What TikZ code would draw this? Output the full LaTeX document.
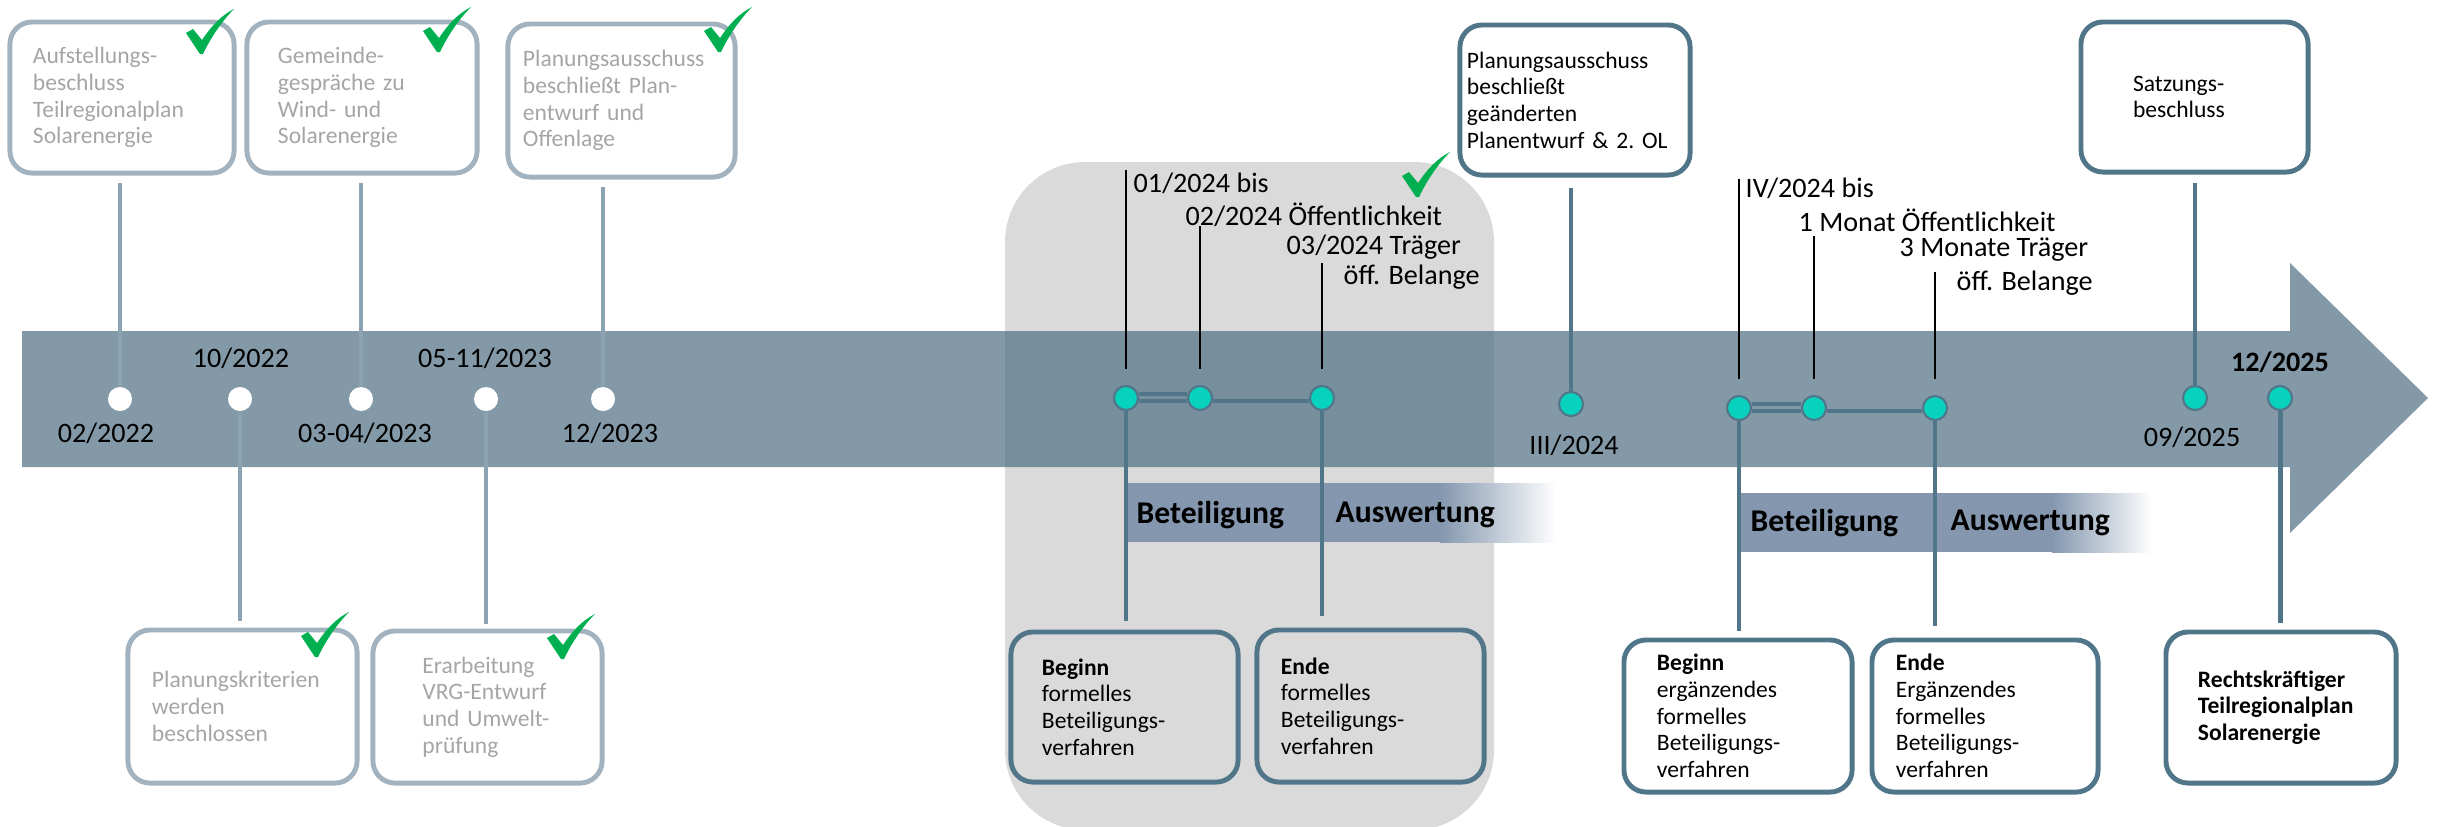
\documentclass[tikz,border=0pt]{standalone}
\usepackage{fontspec}
\setmainfont{Carlito}
\usepackage{xcolor}
\definecolor{bandblue}{RGB}{78,110,130}
\definecolor{darkline}{RGB}{82,118,137}
\definecolor{paleline}{RGB}{139,163,179}
\definecolor{paleframe}{RGB}{162,178,190}
\definecolor{paletext}{RGB}{165,165,165}
\definecolor{zonegrey}{RGB}{218,218,218}
\definecolor{barblue}{RGB}{132,151,175}
\definecolor{dotteal}{RGB}{6,210,189}
\definecolor{okgreen}{RGB}{0,176,80}

\begin{document}
\begin{tikzpicture}[x=0.01cm, y=-0.01cm,
    gbox/.style={draw=paleframe, line width=1.4pt, rounded corners=0.22cm, text=paletext, align=left, inner sep=0pt, font=\fontsize{6.7}{7.6}\selectfont},
    dbox/.style={draw=darkline, line width=1.4pt, rounded corners=0.22cm, align=left, inner sep=0pt, font=\fontsize{6.7}{7.6}\selectfont},
    wdot/.style={circle, fill=white, inner sep=0pt, minimum size=0.24cm},
    tdot/.style={circle, fill=dotteal, draw=darkline, line width=0.6pt, inner sep=0pt, minimum size=0.24cm},
    gline/.style={paleline, line width=1.4pt},
    dline/.style={darkline, line width=1.4pt},
    tick/.style={black, line width=0.45pt},
    date/.style={font=\fontsize{8}{9.6}\selectfont, inner sep=0pt},
    note/.style={font=\fontsize{8}{9.6}\selectfont, anchor=west, inner sep=0pt},
    phase/.style={font=\fontsize{9}{10.8}\selectfont\bfseries, anchor=west, inner sep=0pt},
    chk/.pic={\fill[okgreen] (0,24) -- (7,20) -- (16,31) .. controls (26,16) and (36,6) .. (48,0) .. controls (38,10) and (26,26) .. (17,45) -- (14,45) -- cycle;}]
    \useasboundingbox (0,0) rectangle (2440,826);

    % grey zone and timeline arrow
    \fill[zonegrey, rounded corners=0.8cm] (1005,162) rectangle (1494,830);
    \fill[bandblue, fill opacity=0.7] (22,331) -- (2290,331) -- (2290,263) -- (2428,398) -- (2290,533) -- (2290,467) -- (22,467) -- cycle;

    % participation bars
    \fill[barblue] (1127,483) rectangle (1440,542);
    \shade[left color=barblue, right color=white] (1440,483) rectangle (1556,542);
    \fill[barblue] (1737,493) rectangle (2052,552);
    \shade[left color=barblue, right color=white] (2052,493) rectangle (2152,552);

    % done steps
    \node[wdot] (d1) at (120,399) {};
    \node[wdot] (d2) at (240,399) {};
    \node[wdot] (d3) at (361,399) {};
    \node[wdot] (d4) at (486,399) {};
    \node[wdot] (d5) at (603,399) {};

    \node[gbox, minimum width=2.24cm, minimum height=1.51cm, text width=1.78cm] (aufst) at (122,97.5) {Aufstellungs-\\beschluss\\Teilregionalplan\\Solarenergie};
    \node[gbox, minimum width=2.30cm, minimum height=1.51cm, text width=1.68cm] (gemeinde) at (362,97.5) {Gemeinde-\\gespräche zu\\Wind- und\\Solarenergie};
    \node[gbox, minimum width=2.27cm, minimum height=1.53cm, text width=1.97cm] (planoff) at (621.5,100.5) {Planungsausschuss\\beschließt Plan-\\entwurf und\\Offenlage};
    \node[gbox, minimum width=2.29cm, minimum height=1.53cm, text width=1.81cm] (kriterien) at (242.5,706.5) {Planungskriterien\\werden\\beschlossen};
    \node[gbox, minimum width=2.29cm, minimum height=1.52cm, text width=1.3cm] (vrg) at (487.5,707) {Erarbeitung\\VRG-Entwurf\\und Umwelt-\\prüfung};

    \draw[gline, shorten <=0.07cm] (aufst.south -| d1) -- (d1.north);
    \draw[gline, shorten <=0.07cm] (gemeinde.south -| d3) -- (d3.north);
    \draw[gline, shorten <=0.07cm] (planoff.south -| d5) -- (d5.north);
    \draw[gline, shorten >=0.07cm] (d2.south) -- (kriterien.north -| d2);
    \draw[gline, shorten >=0.05cm] (d4.south) -- (vrg.north -| d4);

    \node[date] (t0222) at (106,433) {02/2022};
    \node[date] (t1022) at (241,358) {10/2022};
    \node[date] (t0323) at (365,433) {03-04/2023};
    \node[date] (t0523) at (485,358) {05-11/2023};
    \node[date] (t1223) at (610,433) {12/2023};

    % formal participation
    \node[tdot] (e1) at (1126,398) {};
    \node[tdot] (e2) at (1200,398) {};
    \node[tdot] (e3) at (1322,398) {};
    \draw[dline, line width=1.1pt] ([yshift=0.04cm]e1.east) -- ([yshift=0.04cm]e2.west);
    \draw[dline] ([yshift=-0.03cm]e1.east) -- ([yshift=-0.03cm]e2.west);
    \draw[dline] ([yshift=-0.03cm]e2.east) -- ([yshift=-0.03cm]e3.west);

    \coordinate (e1top) at (1126,170);
    \coordinate (e2top) at (1200,226);
    \coordinate (e3top) at (1322,263);
    \draw[tick, shorten <=0.16cm] (e1.north) -- (e1top);
    \draw[tick, shorten <=0.16cm] (e2.north) -- (e2top);
    \draw[tick, shorten <=0.16cm] (e3.north) -- (e3top);
    \node[note] (n1) at (1133,183) {01/2024 bis};
    \node[note] (n2) at (1185,215) {02/2024 Öffentlichkeit};
    \node[note] (n3) at (1286,247) {03/2024 Träger};
    \node[note] (n4) at (1343,277) {öff. Belange};

    \node[phase] (beteil1) at (1136,515) {Beteiligung};
    \node[phase] (ausw1) at (1335,515) {Auswertung};

    \node[dbox, minimum width=2.27cm, minimum height=1.50cm, text width=1.65cm] (beg1) at (1124.5,707) {\textbf{Beginn}\\formelles\\Beteiligungs-\\verfahren};
    \node[dbox, minimum width=2.27cm, minimum height=1.52cm, text width=1.79cm] (end1) at (1370.5,706) {\textbf{Ende}\\formelles\\Beteiligungs-\\verfahren};
    \draw[dline, shorten >=0.09cm] (e1.south) -- (beg1.north -| e1);
    \draw[dline, shorten >=0.12cm] (e3.south) -- (end1.north -| e3);

    % changed draft
    \node[dbox, minimum width=2.30cm, minimum height=1.50cm, text width=2.16cm] (plan2) at (1575,100) {Planungsausschuss\\beschließt\\geänderten\\Planentwurf \& 2.~OL};
    \node[tdot] (g1) at (1571,404) {};
    \draw[dline, shorten <=0.1cm] (plan2.south -| g1) -- (g1.north);
    \node[date] (t0324) at (1574,445) {III/2024};

    % supplementary participation
    \node[tdot] (f1) at (1739,408) {};
    \node[tdot] (f2) at (1814,408) {};
    \node[tdot] (f3) at (1935,408) {};
    \draw[dline, line width=1.1pt] ([yshift=0.04cm]f1.east) -- ([yshift=0.04cm]f2.west);
    \draw[dline] ([yshift=-0.03cm]f1.east) -- ([yshift=-0.03cm]f2.west);
    \draw[dline] ([yshift=-0.03cm]f2.east) -- ([yshift=-0.03cm]f3.west);

    \coordinate (f1top) at (1739,179);
    \coordinate (f2top) at (1814,236);
    \coordinate (f3top) at (1935,272);
    \draw[tick, shorten <=0.16cm] (f1.north) -- (f1top);
    \draw[tick, shorten <=0.16cm] (f2.north) -- (f2top);
    \draw[tick, shorten <=0.16cm] (f3.north) -- (f3top);
    \node[note] (m1) at (1745,188) {IV/2024 bis};
    \node[note] (m2) at (1798,220) {1 Monat Öffentlichkeit};
    \node[note] (m3) at (1899,250) {3 Monate Träger};
    \node[note] (m4) at (1956,283) {öff. Belange};

    \node[phase] (beteil2) at (1750,523) {Beteiligung};
    \node[phase] (ausw2) at (1950,523) {Auswertung};

    \node[dbox, minimum width=2.28cm, minimum height=1.52cm, text width=1.62cm] (beg2) at (1738,716) {\textbf{Beginn}\\ergänzendes\\formelles\\Beteiligungs-\\verfahren};
    \node[dbox, minimum width=2.26cm, minimum height=1.52cm, text width=1.78cm] (end2) at (1985,716) {\textbf{Ende}\\Ergänzendes\\formelles\\Beteiligungs-\\verfahren};
    \draw[dline, shorten >=0.07cm] (f1.south) -- (beg2.north -| f1);
    \draw[dline, shorten >=0.12cm] (f3.south) -- (end2.north -| f3);

    % adoption and legal force
    \node[dbox, minimum width=2.27cm, minimum height=1.50cm, text width=1.23cm] (satz) at (2194.5,97) {Satzungs-\\beschluss};
    \node[tdot] (s1) at (2195,398) {};
    \draw[dline, shorten <=0.08cm] (satz.south -| s1) -- (s1.north);
    \node[date] (t0925) at (2192,437) {09/2025};

    \node[tdot] (r1) at (2280,398) {};
    \node[date] (t1225) at (2280,362) {\bfseries 12/2025};
    \node[dbox, minimum width=2.30cm, minimum height=1.51cm, text width=1.66cm] (recht) at (2281,707.5) {\bfseries Rechtskräftiger\\Teilregionalplan\\Solarenergie};
    \draw[dline, shorten >=0.07cm] (r1.south) -- (recht.north -| r1);

    % ticks for finished steps
    \pic at (186,9) {chk};
    \pic at (423,7) {chk};
    \pic at (704,7) {chk};
    \pic at (301,612) {chk};
    \pic at (547,614) {chk};
    \pic at (1402,152) {chk};
\end{tikzpicture}
\end{document}
